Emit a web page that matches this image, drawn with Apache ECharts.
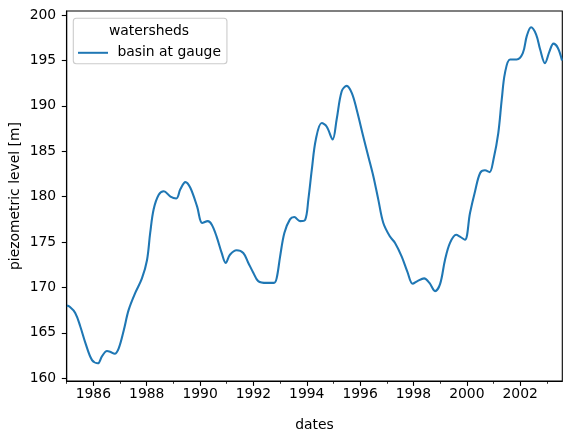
<!DOCTYPE html>
<html>
<head>
<meta charset="utf-8">
<script src="https://cdn.jsdelivr.net/npm/echarts@6/dist/echarts.min.js"></script>
<style>
html,body{margin:0;padding:0;background:#fff;}
#chart{width:571px;height:434px;}
</style>
</head>
<body>
<div id="chart"></div>
<script>
// dates as decimal years
const dates = [1985.01,1985.10,1985.32,1985.51,1985.70,1985.95,1986.17,1986.32,1986.51,1986.64,1986.80,1986.95,
1987.14,1987.32,1987.57,1987.82,1988.01,1988.13,1988.26,1988.45,1988.64,1988.89,1989.11,1989.26,1989.45,1989.63,1989.89,
1990.08,1990.29,1990.44,1990.62,1990.81,1990.96,1991.12,1991.37,1991.62,1991.81,1992.00,1992.18,1992.50,1992.77,1992.87,
1993.00,1993.16,1993.37,1993.53,1993.75,1993.94,1994.06,1994.19,1994.34,1994.56,1994.75,1994.97,1995.12,1995.31,1995.50,
1995.69,1995.87,1996.12,1996.31,1996.50,1996.68,1996.87,1997.12,1997.31,1997.56,1997.77,1997.97,1998.15,1998.40,1998.60,
1998.81,1999.00,1999.18,1999.37,1999.60,1999.74,1999.93,2000.12,2000.31,2000.50,2000.68,2000.85,2001.00,2001.18,2001.31,
2001.43,2001.62,2001.87,2002.10,2002.25,2002.41,2002.60,2002.75,2002.93,2003.10,2003.25,2003.41,2003.57];
const levels = [168.0,167.9,167.2,165.7,163.9,162.0,161.65,162.4,163.0,162.9,162.7,163.3,
165.3,167.5,169.4,171.0,173.0,176.0,178.6,180.2,180.6,180.0,179.8,180.8,181.6,181.0,178.9,
177.1,177.3,176.9,175.6,173.8,172.7,173.6,174.1,173.8,172.7,171.6,170.7,170.5,170.5,171.0,
173.4,176.0,177.5,177.75,177.3,177.45,179.7,183.0,186.3,188.1,187.7,186.3,188.5,191.6,192.2,
191.4,189.6,186.6,184.4,182.2,179.7,177.1,175.6,174.9,173.4,171.75,170.4,170.7,171.0,170.5,
169.6,170.4,173.0,174.9,175.8,175.6,175.25,178.2,180.6,182.6,182.9,182.7,184.1,187.0,190.7,
193.6,195.1,195.1,195.8,197.7,198.65,197.85,196.2,194.7,196.0,196.85,196.4,195.0];
const yTicks = [160,165,170,175,180,185,190,195,200];
const xMajor = [1986,1988,1990,1992,1994,1996,1998,2000,2002];
const xMinor = [1985,1987,1989,1991,1993,1995,1997,1999,2001,2003];
const seriesName = 'basin at gauge';
const legendTitle = 'watersheds';

const FONT = 'DejaVu Sans';
const FS = 13.9;
const data = dates.map((d, i) => [d, levels[i]]);

const chart = echarts.init(document.getElementById('chart'), null, {renderer: 'canvas'});
const gridPos = {left: 66.7, right: 8.7, top: 11, bottom: 53};
chart.setOption({
  animation: false,
  backgroundColor: '#fff',
  textStyle: {fontFamily: FONT},
  grid: [
    Object.assign({show: true, borderColor: '#000', borderWidth: 1.1, backgroundColor: 'transparent', containLabel: false, outerBoundsMode: 'none'}, gridPos),
    Object.assign({show: false, containLabel: false, outerBoundsMode: 'none'}, gridPos)
  ],
  title: {
    text: legendTitle,
    left: 149, top: 24.5, textAlign: 'center', padding: 0,
    textStyle: {fontFamily: FONT, fontSize: FS, fontWeight: 'normal', color: '#000'}
  },
  legend: {
    left: 73.3, top: 18.3,
    orient: 'vertical',
    padding: [27.5, 6, 4, 3.7],
    itemWidth: 30, itemHeight: 14,
    backgroundColor: 'rgba(255,255,255,0.8)',
    borderColor: '#cccccc', borderWidth: 1.1, borderRadius: 3,
    formatter: ' {name}',
    itemStyle: {opacity: 0},
    textStyle: {fontFamily: FONT, fontSize: FS, color: '#000'},
    data: [seriesName]
  },
  xAxis: [{
    type: 'value', gridIndex: 0,
    min: 1985.0, max: 2003.58,
    name: 'dates', nameLocation: 'middle', nameGap: 37, nameMoveOverlap: false,
    nameTextStyle: {fontFamily: FONT, fontSize: FS, color: '#000'},
    splitLine: {show: false},
    axisLine: {show: true, lineStyle: {color: '#000', width: 1.1}},
    axisTick: {show: true, length: 4.9, lineStyle: {color: '#000', width: 1.1}, customValues: xMajor},
    axisLabel: {customValues: xMajor, margin: 6.5, fontFamily: FONT, fontSize: FS, color: '#000',
      formatter: v => String(Math.round(v))}
  }, {
    type: 'value', gridIndex: 1,
    min: 1985.0, max: 2003.58,
    splitLine: {show: false},
    axisLine: {show: false},
    axisTick: {show: true, length: 2.8, lineStyle: {color: '#000', width: 0.8}, customValues: xMinor},
    axisLabel: {show: false}
  }],
  yAxis: [{
    type: 'value', gridIndex: 0,
    min: 159.7, max: 200.44,
    name: 'piezometric level [m]', nameLocation: 'middle', nameGap: 44, nameRotate: 90, nameMoveOverlap: false,
    nameTextStyle: {fontFamily: FONT, fontSize: FS, color: '#000'},
    splitLine: {show: false},
    axisLine: {show: true, lineStyle: {color: '#000', width: 1.1}},
    axisTick: {show: true, length: 4.9, lineStyle: {color: '#000', width: 1.1}, customValues: yTicks},
    axisLabel: {customValues: yTicks, margin: 10.5, fontFamily: FONT, fontSize: FS, color: '#000'}
  }, {
    type: 'value', gridIndex: 1,
    min: 159.7, max: 200.44, show: false
  }],
  series: [{
    name: seriesName,
    type: 'line',
    xAxisIndex: 0, yAxisIndex: 0,
    data: data,
    symbol: 'none',
    smooth: 0.35,
    lineStyle: {color: '#1f77b4', width: 2.08},
    itemStyle: {color: '#1f77b4'}
  }]
});
</script>
</body>
</html>
